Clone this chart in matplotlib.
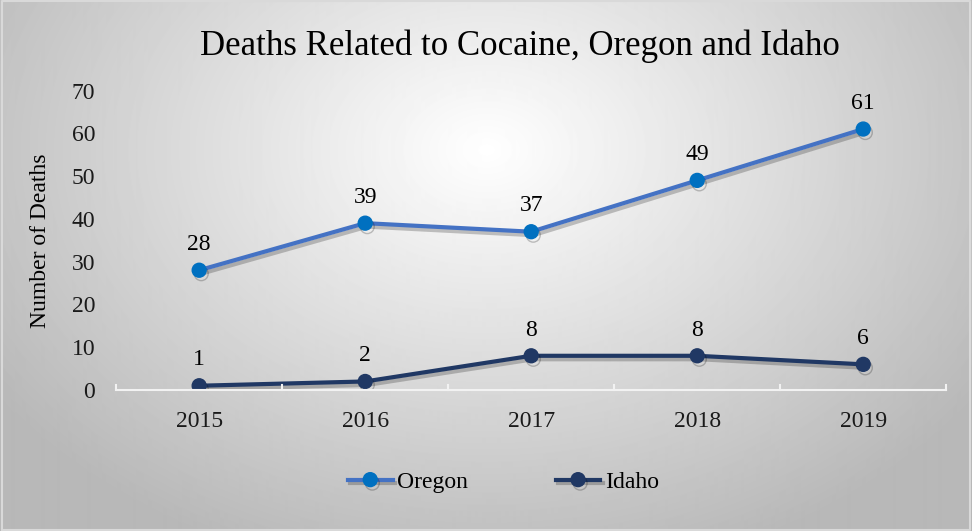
import numpy as np
import matplotlib
matplotlib.use("Agg")
import matplotlib.pyplot as plt
import matplotlib.patheffects as pe

years = ["2015", "2016", "2017", "2018", "2019"]
oregon = [28, 39, 37, 49, 61]
idaho = [1, 2, 8, 8, 6]

plt.rcParams["font.family"] = ["Liberation Serif", "DejaVu Serif"]

fig = plt.figure(figsize=(9.72, 5.31), dpi=100)

# radial grey background, lightest near the top middle
bg = fig.add_axes([0, 0, 1, 1], zorder=-10)
yy, xx = np.mgrid[0:531, 0:972]
r = np.sqrt(((xx - 486) / 640.0) ** 2 + ((yy - 150) / 470.0) ** 2)
shade = np.clip(1.0 - 0.30 * r, 0.72, 1.0)
bg.imshow(shade, cmap="gray", vmin=0, vmax=1, aspect="auto",
          extent=[0, 1, 0, 1], interpolation="bilinear")
bg.plot([0.002, 0.998, 0.998, 0.002, 0.002], [0.002, 0.002, 0.998, 0.998, 0.002],
        color="#d9d9d9", lw=1.5)
bg.set_xlim(0, 1)
bg.set_ylim(0, 1)
bg.axis("off")

ax = fig.add_axes([0.1195, 0.2655, 0.854, 0.564])
ax.patch.set_alpha(0)
x = np.arange(len(years))

shadow = [pe.SimpleLineShadow(offset=(1.5, -2.5), shadow_color="k", alpha=0.22, rho=1), pe.Normal()]
ax.plot(x, oregon, color="#4472c4", lw=3, marker="o", ms=10,
        mfc="#0070c0", mec="#0070c0", label="Oregon", path_effects=shadow)
ax.plot(x, idaho, color="#203864", lw=3, marker="o", ms=10,
        mfc="#203864", mec="#203864", label="Idaho", path_effects=shadow)

for xi, v in zip(x, oregon):
    ax.annotate(str(v), (xi, v), xytext=(0, 11), textcoords="offset points",
                ha="center", va="bottom", fontsize=17)
for xi, v in zip(x, idaho):
    ax.annotate(str(v), (xi, v), xytext=(0, 11), textcoords="offset points",
                ha="center", va="bottom", fontsize=17)

ax.set_xlim(-0.5, 4.5)
ax.set_ylim(0, 70)
ax.set_yticks(range(0, 71, 10))
ax.set_xticks(x)
ax.set_xticklabels(years)
ax.tick_params(axis="both", length=0, labelsize=17, colors="#1a1a1a")
ax.tick_params(axis="x", pad=15)
ax.tick_params(axis="y", pad=15)
for s in ["top", "right", "left"]:
    ax.spines[s].set_visible(False)
ax.spines["bottom"].set_color("#f2f2f2")
ax.spines["bottom"].set_linewidth(1.5)
# small upward ticks at category boundaries
for b in np.arange(-0.5, 4.6, 1.0):
    ax.plot([b, b], [0, 1.2], color="#f2f2f2", lw=1.5, clip_on=False)

ax.set_ylabel("Number of Deaths", fontsize=17, labelpad=15)
fig.text(0.535, 0.913, "Deaths Related to Cocaine, Oregon and Idaho",
         ha="center", va="center", fontsize=25)

fig.legend(loc="center", bbox_to_anchor=(0.518, 0.092), ncol=2, frameon=False,
           fontsize=17, handlelength=1.9, columnspacing=3.7, handletextpad=0.2)

fig.savefig("out.png", dpi=100)
